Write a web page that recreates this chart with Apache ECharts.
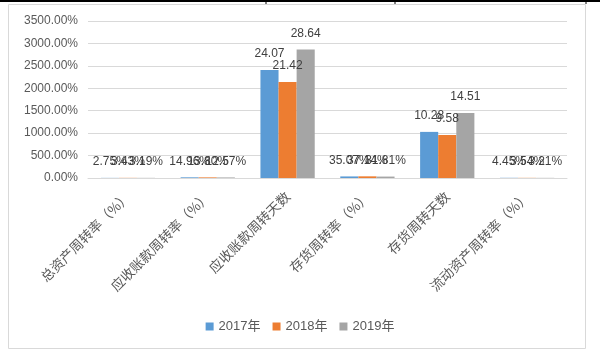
<!DOCTYPE html>
<html>
<head>
<meta charset="utf-8">
<script src="https://cdn.jsdelivr.net/npm/echarts@6/dist/echarts.min.js"></script>
<style>
  html, body { margin: 0; padding: 0; background: #fff; }
  #chart { width: 600px; height: 354px; }
</style>
</head>
<body>
<div id="chart"></div>
<script>
// categories on the x axis
const categories = ['总资产周转率（%）', '应收账款周转率（%）', '应收账款周转天数', '存货周转率（%）', '存货周转天数', '流动资产周转率（%）']
// which categories are percentages (label shown as %), the others are days
const isPercent = [true, true, false, true, false, true]
const years = ['2017年', '2018年', '2019年']
// raw values (percent rows stored as fractions)
const v2017 = [0.0275, 0.1496, 24.07, 0.3507, 10.28, 0.0445]
const v2018 = [0.0343, 0.1380, 21.42, 0.3714, 9.58, 0.0354]
const v2019 = [0.0319, 0.1257, 28.64, 0.3181, 14.51, 0.0321]
const colors = ['#5b9bd5', '#ed7d31', '#a5a5a5']

const font = "'Liberation Sans', 'Noto Sans CJK SC', sans-serif"

const chart = echarts.init(document.getElementById('chart'))

const mkSeries = (name, data, color) => ({
  name,
  type: 'bar',
  data,
  barGap: '0%',
  barCategoryGap: '32%',
  itemStyle: { color },
  label: {
    show: true,
    position: 'top',
    distance: 10,
    color: '#404040',
    fontSize: 12,
    fontFamily: font,
    formatter: p => isPercent[p.dataIndex] ? (p.value * 100).toFixed(2) + '%' : p.value.toFixed(2)
  }
})

chart.setOption({
  animation: false,
  textStyle: { fontFamily: font },
  grid: { left: 88, right: 33, top: 21, bottom: 176 },
  legend: {
    bottom: 16,
    left: 'center',
    itemWidth: 8,
    itemHeight: 8,
    itemGap: 12,
    icon: 'rect',
    textStyle: { color: '#595959', fontSize: 13, fontFamily: font }
  },
  xAxis: {
    type: 'category',
    data: categories,
    axisLine: { lineStyle: { color: '#d9d9d9', width: 1 } },
    axisTick: { show: false },
    axisLabel: {
      rotate: 45,
      interval: 0,
      color: '#595959',
      fontSize: 13.5,
      margin: 16,
      fontFamily: "'Noto Sans CJK SC', sans-serif"
    }
  },
  yAxis: {
    type: 'value',
    min: 0,
    max: 35,
    interval: 5,
    axisLine: { show: false },
    axisTick: { show: false },
    splitLine: { lineStyle: { color: '#d9d9d9' } },
    axisLabel: {
      color: '#595959',
      fontSize: 12,
      margin: 10,
      formatter: v => (v * 100).toFixed(2) + '%'
    }
  },
  graphic: [
    { type: 'rect', shape: { x: 8.5, y: 4.5, width: 577, height: 344 }, style: { fill: 'none', stroke: '#d9d9d9', lineWidth: 1 }, z: -1 },
    { type: 'line', shape: { x1: 0, y1: 1, x2: 600, y2: 1 }, style: { stroke: '#000', lineWidth: 2 } },
    { type: 'line', shape: { x1: 266, y1: 0, x2: 266, y2: 4 }, style: { stroke: '#000', lineWidth: 1 } },
    { type: 'line', shape: { x1: 395, y1: 0, x2: 395, y2: 4 }, style: { stroke: '#000', lineWidth: 1 } },
    { type: 'line', shape: { x1: 586, y1: 0, x2: 586, y2: 4 }, style: { stroke: '#000', lineWidth: 1 } }
  ],
  series: [
    mkSeries(years[0], v2017, colors[0]),
    mkSeries(years[1], v2018, colors[1]),
    mkSeries(years[2], v2019, colors[2])
  ]
})
</script>
</body>
</html>
